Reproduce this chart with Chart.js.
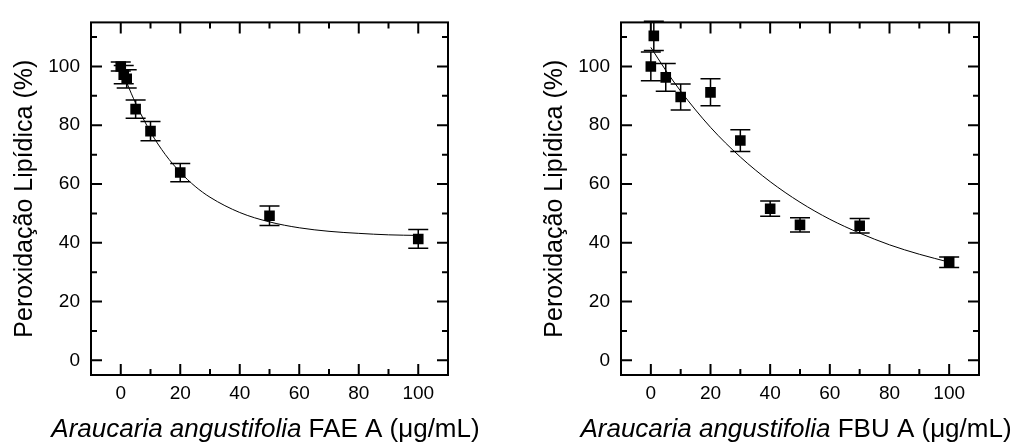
<!DOCTYPE html>
<html>
<head>
<meta charset="utf-8">
<script src="https://cdn.jsdelivr.net/npm/chart.js@4.4.1/dist/chart.umd.min.js"></script>
<style>
    body { margin: 0; background: #fff; }
    #wrap { position: relative; width: 1023px; height: 445px; }
    .panel { position: absolute; top: 0; }
</style>
</head>
<body>
<div id="wrap">
    <div class="panel" style="left:0"><canvas id="chartFAE" width="530" height="445"></canvas></div>
    <div class="panel" style="left:530px"><canvas id="chartFBU" width="493" height="445"></canvas></div>
</div>
<script>
/* FAE A fraction */
var faeDose = [0, 1, 2, 5, 10, 20, 50, 100];
var faeLipid = [100, 97.2, 95.8, 85.5, 78.0, 63.9, 49.2, 41.3];
var faeErr = [1.5, 3.1, 3.1, 3.1, 3.3, 3.1, 3.3, 3.2];
var faeFitDose = [0, 2, 5, 10, 15, 20, 25, 30, 40, 50, 60, 70, 80, 90, 100];
var faeFitLipid = [100, 94.6, 87.5, 77.7, 70.0, 64.0, 59.2, 55.5, 50.3, 47.1, 45.1, 43.9, 43.2, 42.7, 42.5];

/* FBU A fraction */
var fbuDose = [0, 1, 5, 10, 20, 30, 40, 50, 70, 100];
var fbuLipid = [100, 110.4, 96.3, 89.6, 91.2, 74.8, 51.6, 46.1, 45.8, 33.4];
var fbuErr = [4.9, 5.0, 4.7, 4.4, 4.6, 3.7, 2.6, 2.4, 2.5, 1.8];
var fbuFitDose = [0, 5, 10, 20, 30, 40, 50, 60, 70, 80, 90, 100];
var fbuFitLipid = [106.5, 98.7, 91.6, 79.3, 69.2, 60.8, 53.8, 48.0, 43.3, 39.3, 36.1, 33.4];

/* axis labels */
var xTickLabels = [0, 20, 40, 60, 80, 100];
var yTickLabels = [0, 20, 40, 60, 80, 100];
var yTitle = 'Peroxidação Lipídica (%)';
var speciesName = 'Araucaria angustifolia';

var FONT = "'Liberation Sans', Arial, sans-serif";

function toPoints(xs, ys) {
    var pts = [];
    for (var i = 0; i < xs.length; i++) {
        pts.push({ x: xs[i], y: ys[i] });
    }
    return pts;
}

/*Error bars under the markers*/
var errorBars = {
    id: 'errorBars',
    beforeDatasetsDraw: function (chart) {
        var ctx = chart.ctx;
        var sx = chart.scales.x, sy = chart.scales.y;
        chart.data.datasets.forEach(function (ds) {
            if (!ds.errors) return;
            ctx.save();
            ctx.strokeStyle = '#000';
            ctx.lineWidth = 1.5;
            ds.data.forEach(function (pt, j) {
                var px = sx.getPixelForValue(pt.x);
                var top = sy.getPixelForValue(pt.y + ds.errors[j]);
                var bot = sy.getPixelForValue(pt.y - ds.errors[j]);
                ctx.beginPath();
                ctx.moveTo(px, top); ctx.lineTo(px, bot);
                ctx.moveTo(px - 10, top); ctx.lineTo(px + 10, top);
                ctx.moveTo(px - 10, bot); ctx.lineTo(px + 10, bot);
                ctx.stroke();
            });
            ctx.restore();
        });
    }
};

/*Closed frame with inward ticks on all four sides*/
var frameTicks = {
    id: 'frameTicks',
    afterDraw: function (chart) {
        var ctx = chart.ctx;
        var a = chart.chartArea;
        var sx = chart.scales.x, sy = chart.scales.y;
        ctx.save();
        ctx.strokeStyle = '#000';
        ctx.lineWidth = 2;
        ctx.strokeRect(a.left, a.top, a.right - a.left, a.bottom - a.top);
        ctx.beginPath();
        var v, p, len;
        for (v = Math.ceil(sx.min / 10) * 10; v < sx.max; v += 10) {
            p = sx.getPixelForValue(v);
            len = (v % 20 === 0) ? 11 : 6;
            ctx.moveTo(p, a.bottom); ctx.lineTo(p, a.bottom - len);
            ctx.moveTo(p, a.top); ctx.lineTo(p, a.top + len);
        }
        for (v = Math.ceil(sy.min / 10) * 10; v < sy.max; v += 10) {
            p = sy.getPixelForValue(v);
            len = (v % 20 === 0) ? 11 : 6;
            ctx.moveTo(a.left, p); ctx.lineTo(a.left + len, p);
            ctx.moveTo(a.right, p); ctx.lineTo(a.right - len, p);
        }
        ctx.stroke();
        ctx.restore();
    }
};

/*X title: italic species name followed by fraction and unit*/
var xTitle = {
    id: 'xTitle',
    afterDraw: function (chart, args, opts) {
        var ctx = chart.ctx;
        var a = chart.chartArea;
        var rest = ' ' + opts.fraction + ' (μg/mL)';
        ctx.save();
        ctx.fillStyle = '#000';
        ctx.textBaseline = 'middle';
        ctx.font = 'italic 26px ' + FONT;
        var w1 = ctx.measureText(speciesName).width;
        ctx.font = '26px ' + FONT;
        var w2 = ctx.measureText(rest).width;
        var x0 = (a.left + a.right) / 2 - 4 - (w1 + w2) / 2;
        ctx.font = 'italic 26px ' + FONT;
        ctx.fillText(speciesName, x0, 430);
        ctx.font = '26px ' + FONT;
        ctx.fillText(rest, x0 + w1, 430);
        ctx.restore();
    }
};

function BuildPanel(canvasId, dose, lipid, err, fitDose, fitLipid, fraction, padRight) {
    var tickFont = { family: FONT, size: 19 };
    return new Chart(document.getElementById(canvasId), {
        type: 'scatter',
        data: {
            datasets: [
                {
                    data: toPoints(dose, lipid),
                    errors: err,
                    pointStyle: 'rect',
                    pointRadius: 7.5,
                    pointBackgroundColor: '#000',
                    pointBorderWidth: 0,
                    showLine: false
                },
                {
                    data: toPoints(fitDose, fitLipid),
                    showLine: true,
                    borderColor: '#000',
                    borderWidth: 1,
                    pointRadius: 0,
                    cubicInterpolationMode: 'monotone'
                }]
        },
        plugins: [errorBars, frameTicks, xTitle],
        options: {
            responsive: false,
            animation: false,
            layout: { padding: { top: 17, right: padRight, bottom: 0, left: 0 } },
            scales: {
                x: {
                    type: 'linear',
                    min: -10,
                    max: 110,
                    grid: { display: false, drawTicks: false },
                    border: { display: false },
                    afterBuildTicks: function (scale) {
                        scale.ticks = xTickLabels.map(function (v) { return { value: v }; });
                    },
                    afterFit: function (scale) { scale.height = 70; },
                    ticks: { color: '#000', font: tickFont, padding: 7, maxRotation: 0 }
                },
                y: {
                    type: 'linear',
                    min: -5,
                    max: 115,
                    grid: { display: false, drawTicks: false },
                    border: { display: false },
                    afterBuildTicks: function (scale) {
                        scale.ticks = yTickLabels.map(function (v) { return { value: v }; });
                    },
                    afterFit: function (scale) { scale.width = 91; },
                    ticks: { color: '#000', font: tickFont, padding: 11 },
                    title: {
                        display: true,
                        text: yTitle,
                        color: '#000',
                        font: { family: FONT, size: 25 },
                        padding: { top: 10, bottom: 0 }
                    }
                }
            },
            plugins: {
                legend: { display: false },
                tooltip: { enabled: false },
                xTitle: { fraction: fraction }
            }
        }
    });
}

BuildPanel('chartFAE', faeDose, faeLipid, faeErr, faeFitDose, faeFitLipid, 'FAE A', 82);
BuildPanel('chartFBU', fbuDose, fbuLipid, fbuErr, fbuFitDose, fbuFitLipid, 'FBU A', 44);
</script>
</body>
</html>
